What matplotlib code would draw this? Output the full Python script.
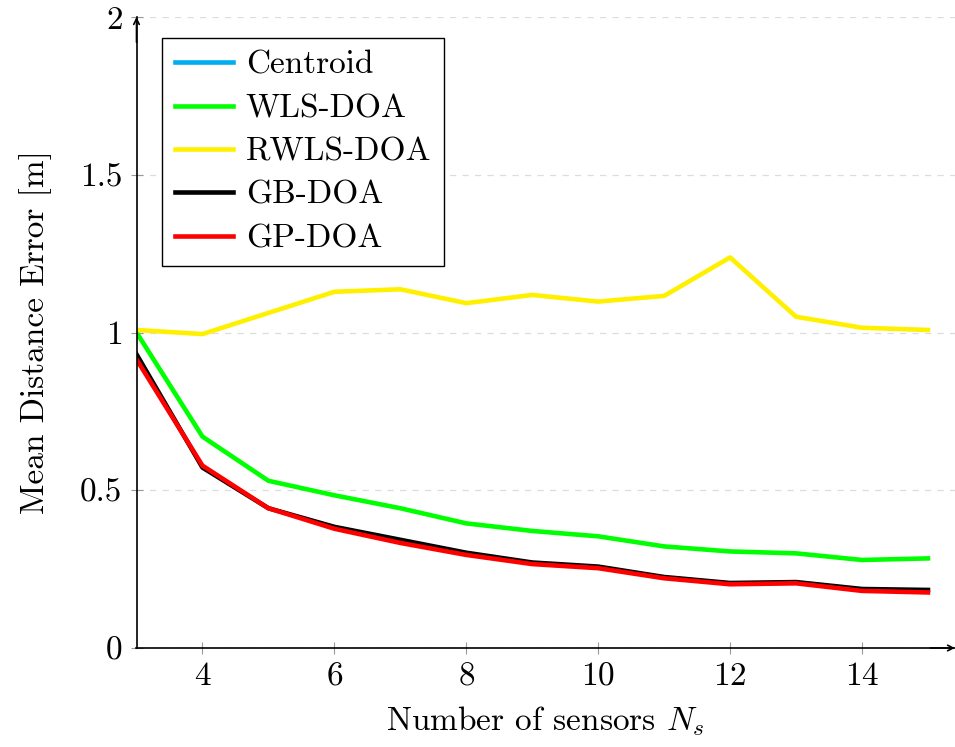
import numpy as np
import matplotlib
matplotlib.use("Agg")
import matplotlib.pyplot as plt

plt.rcParams['font.family'] = 'serif'
plt.rcParams['font.serif'] = ['cmr10']
plt.rcParams['mathtext.fontset'] = 'cm'
plt.rcParams['axes.formatter.use_mathtext'] = True

# Data
n_sensors = [3, 4, 5, 6, 7, 8, 9, 10, 11, 12, 13, 14, 15]
centroid  = []   # not visible inside the plotted range
wls_doa   = [1.000, 0.670, 0.530, 0.484, 0.443, 0.395, 0.371, 0.354, 0.322, 0.306, 0.300, 0.279, 0.284]
rwls_doa  = [1.008, 0.995, 1.062, 1.129, 1.137, 1.093, 1.119, 1.098, 1.116, 1.238, 1.050, 1.015, 1.008]
gb_doa    = [0.931, 0.572, 0.443, 0.384, 0.343, 0.302, 0.271, 0.258, 0.225, 0.206, 0.209, 0.187, 0.184]
gp_doa    = [0.915, 0.578, 0.443, 0.378, 0.333, 0.295, 0.266, 0.253, 0.221, 0.202, 0.205, 0.181, 0.176]

fs = 24
fig = plt.figure(figsize=(9.55, 7.47), dpi=100)
ax = fig.add_axes([136.5/955, 99/747, 1 - 136.5/955, 631/747])

lw = 3.3
ax.plot(centroid, centroid, color='#00AEEF', lw=lw, label='Centroid')
ax.plot(n_sensors, wls_doa, color='#00FF00', lw=lw, label='WLS-DOA')
ax.plot(n_sensors, rwls_doa, color='#FFF000', lw=lw, label='RWLS-DOA')
ax.plot(n_sensors, gb_doa, color='black', lw=lw, label='GB-DOA')
ax.plot(n_sensors, gp_doa, color='#FF0000', lw=lw, label='GP-DOA')

ax.set_xlim(3, 15.41)
ax.set_ylim(0, 2)
ax.set_xticks([4, 6, 8, 10, 12, 14])
ax.set_yticks([0, 0.5, 1, 1.5, 2])
ax.set_yticklabels(['0', '0.5', '1', '1.5', '2'])
ax.tick_params(direction='inout', length=8, width=0.8, color='#999999',
               labelsize=fs, pad=6)
ax.yaxis.grid(True, linestyle=(0, (5, 5)), color='#dddddd', lw=0.9)
ax.set_axisbelow(True)

for s in ['top', 'right']:
    ax.spines[s].set_visible(False)
for s in ['left', 'bottom']:
    ax.spines[s].set_linewidth(1.2)

# arrow tips on the axes
ax.annotate('', xy=(1.0, 0), xytext=(0.97, 0), xycoords='axes fraction',
            arrowprops=dict(arrowstyle='->', lw=1.2, color='black',
                            shrinkA=0, shrinkB=0))
ax.annotate('', xy=(0, 1.0), xytext=(0, 0.96), xycoords='axes fraction',
            arrowprops=dict(arrowstyle='->', lw=1.2, color='black',
                            shrinkA=0, shrinkB=0))

ax.set_xlabel('Number of sensors $N_s$', fontsize=fs, labelpad=10)
ax.set_ylabel('Mean Distance Error [m]', fontsize=fs, labelpad=20)

leg = ax.legend(loc='upper left', bbox_to_anchor=(162/955, 1 - 38/747),
                bbox_transform=fig.transFigure, borderaxespad=0,
                fontsize=fs, fancybox=False, framealpha=1,
                edgecolor='black', handlelength=1.75, handletextpad=0.38,
                labelspacing=0.42, borderpad=0.38)
leg.get_frame().set_linewidth(1.0)

fig.savefig('out.png', dpi=100)
